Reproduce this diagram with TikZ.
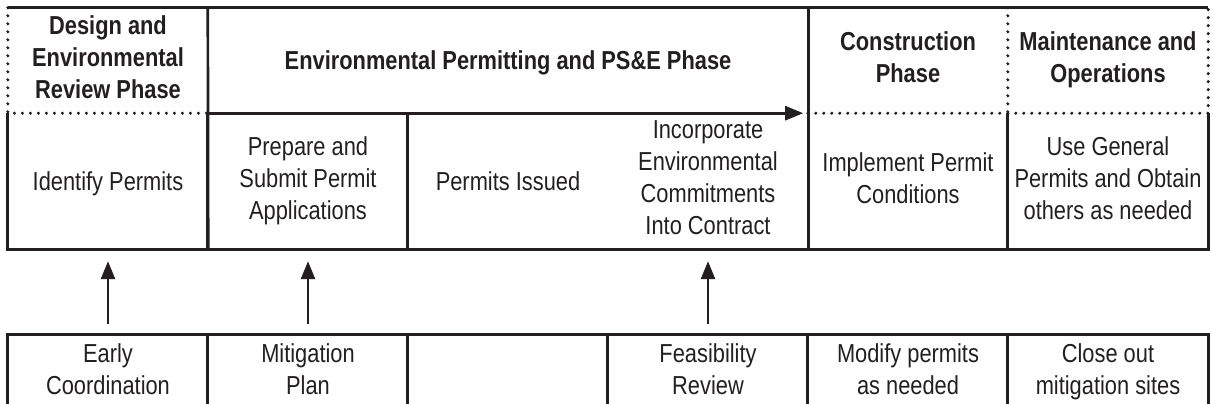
\documentclass[tikz,border=0pt]{standalone}
\usepackage{fontspec}
\setmainfont{Liberation Sans}[FakeStretch=0.84]
\usetikzlibrary{arrows.meta}
\definecolor{ink}{HTML}{231F20}
\newcommand\cellstrut{\rule[-6.7pt]{0pt}{32pt}}

\tikzset{
  cell/.style={minimum width=200pt, inner sep=0pt, align=center, text=ink,
    font=\fontsize{26}{32}\selectfont,
    execute at begin node=\cellstrut, execute at end node=\cellstrut},
  phase/.style={cell, minimum height=105pt, font=\fontsize{26}{32}\selectfont\bfseries},
  task/.style={cell, minimum height=136pt},
  support/.style={cell, minimum height=75pt},
  grid/.style={line width=2.7pt, draw=ink},
  dots/.style={line width=3.4pt, line cap=round, dash pattern=on 0pt off 8pt, draw=ink},
  up/.style={line width=2.5pt, draw=ink, -{Triangle[length=18pt, width=14pt]}}
}

\begin{document}
\begin{tikzpicture}[x=1pt, y=-1pt]
	\clip (0,0) rectangle (1211,404);
	% phases
	\node[phase] (design) at (108,60.5) {Design and\\Environmental\\Review Phase};
	\node[phase, minimum width=600pt] (permit) at (508,60.5) {Environmental Permitting and PS\&E Phase};
	\node[phase] (constr) at (908,60.5) {Construction\\Phase};
	\node[phase] (maint) at (1108,60.5) {Maintenance and\\Operations};
	% tasks
	\node[task] (identify) at (108,181) {Identify Permits};
	\node[task] (prepare) at (308,181) {Prepare and\\Submit Permit\\Applications};
	\node[task] (issued) at (508,181) {Permits Issued};
	\node[task] (incorp) at (708,181) {Incorporate\\Environmental\\Commitments\\Into Contract};
	\node[task] (implement) at (908,181) {Implement Permit\\Conditions};
	\node[task] (general) at (1108,181) {Use General\\Permits and Obtain\\others as needed};
	% supporting tasks
	\node[support] (early) at (108,372.5) {Early\\Coordination};
	\node[support] (mitig) at (308,372.5) {Mitigation\\Plan};
	\node[support] (blank) at (508,372.5) {};
	\node[support] (feas) at (708,372.5) {Feasibility\\Review};
	\node[support] (modify) at (908,372.5) {Modify permits\\as needed};
	\node[support] (close) at (1108,372.5) {Close out\\mitigation sites};

	% header frame
	\draw[grid] (design.north west) -- (maint.north east);
	\draw[dots] (design.north west) -- (design.south west) -- (design.south east);
	\draw[grid] (permit.north west) -- (identify.south east);
	\draw[grid] (permit.north east) -- (incorp.south east);
	\draw[dots] (constr.south west) -- (maint.south east) -- (maint.north east);
	\draw[dots] (maint.north west) -- (maint.south west);
	\draw[grid, -{Triangle[length=18pt, width=14pt]}, shorten >=5pt] (permit.south west) -- (permit.south east);
	% task row
	\draw[grid] (identify.north west) -- (identify.south west) -- (general.south east) -- (general.north east);
	\foreach \c in {prepare, issued, general}
		\draw[grid] (\c.north west) -- (\c.south west);
	% support row
	\draw[grid] (early.south west) -- (early.north west) -- (close.north east) -- (close.south east);
	\foreach \c in {mitig, blank, feas, modify, close}
		\draw[grid] (\c.north west) -- (\c.south west);
	% inputs
	\draw[up, shorten <=11pt, shorten >=12pt] (early.north) -- (identify.south);
	\draw[up, shorten <=11pt, shorten >=12pt] (mitig.north) -- (prepare.south);
	\draw[up, shorten <=11pt, shorten >=12pt] (feas.north) -- (incorp.south);
\end{tikzpicture}
\end{document}
